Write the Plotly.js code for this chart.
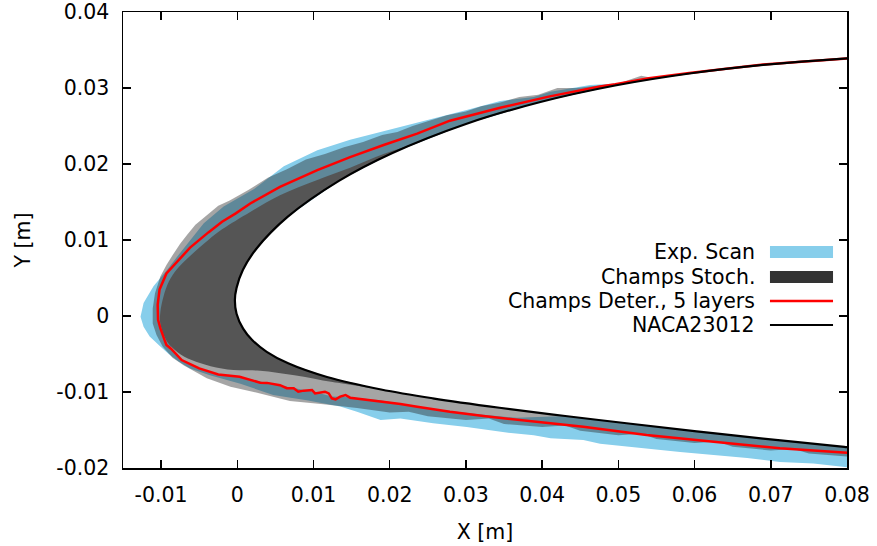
<!DOCTYPE html>
<html>
<head>
<meta charset="utf-8">
<script src="https://cdn.plot.ly/plotly-3.0.1.min.js"></script>
<style>html,body{margin:0;padding:0;background:#fff;}#chart{width:877px;height:546px;}</style>
</head>
<body>
<div id="chart"></div>
<script>
// NACA23012 contour (upper trailing side -> nose -> lower side)
const naca23012X = [0.0835, 0.08044, 0.069, 0.05933, 0.04957, 0.03977, 0.0300, 0.02036, 0.01333, 0.00663, 0.00253, 0.00074, -0.0001, -0.00032, -0.0001, 0.00076, 0.00195, 0.00386, 0.00667, 0.01177, 0.01887, 0.02564, 0.0344, 0.04303, 0.05163, 0.06027, 0.069, 0.07964, 0.0821];
const naca23012Y = [0.0341, 0.03394, 0.03304, 0.03191, 0.03033, 0.02816, 0.02527, 0.02145, 0.01778, 0.01307, 0.00889, 0.00608, 0.0037, 0.0021, 0.0003, -0.00167, -0.00317, -0.00471, -0.00623, -0.00803, -0.00967, -0.01083, -0.01207, -0.01316, -0.01418, -0.01518, -0.01613, -0.01722, -0.0175];

// Champs deterministic (5 layers) ice contour
const deterX = [0.0835, 0.069, 0.0593, 0.0540, 0.0496, 0.0476, 0.0410, 0.0345, 0.0279, 0.0236, 0.0192, 0.0148, 0.0105, 0.0056, 0.0017, -0.0002, -0.0020, -0.0038, -0.0062, -0.0079, -0.0093, -0.0102, -0.01045, -0.0104, -0.0101, -0.0096, -0.0093, -0.0087, -0.0073, -0.0050, -0.0025, 0.0003, 0.0017, 0.0030, 0.0039, 0.0056, 0.0065, 0.0074, 0.0080, 0.0087, 0.0098, 0.0102, 0.0115, 0.0120, 0.0124, 0.0129, 0.0135, 0.0142, 0.0148, 0.0161, 0.0188, 0.0214, 0.0236, 0.0279, 0.0323, 0.0367, 0.0411, 0.0454, 0.0537, 0.0625, 0.0712, 0.0800, 0.0830];
const deterY = [0.03415, 0.03309, 0.03196, 0.0313, 0.0305, 0.0302, 0.0289, 0.0274, 0.0257, 0.0240, 0.0225, 0.0209, 0.0192, 0.0170, 0.0148, 0.0135, 0.0124, 0.0110, 0.0090, 0.0072, 0.0056, 0.0035, 0.0015, -0.0005, -0.0016, -0.0030, -0.0038, -0.0043, -0.0058, -0.0069, -0.0077, -0.0080, -0.0084, -0.00877, -0.0088, -0.0091, -0.0095, -0.0095, -0.00996, -0.00982, -0.00974, -0.01018, -0.00996, -0.01018, -0.01083, -0.01097, -0.01061, -0.0104, -0.01075, -0.01092, -0.01118, -0.01158, -0.01193, -0.01259, -0.01316, -0.01368, -0.01412, -0.01456, -0.01566, -0.01654, -0.01741, -0.01798, -0.0182];

// Experimental scan: outer edge and inner edge of the ice band
const expOuterX = [0.0530, 0.0498, 0.0463, 0.0411, 0.0389, 0.0345, 0.0301, 0.0257, 0.0214, 0.0170, 0.0148, 0.0105, 0.0061, 0.0022, -0.0018, -0.0044, -0.0062, -0.0079, -0.0092, -0.0110, -0.0123, -0.0127, -0.0123, -0.0115, -0.0101, -0.0090, -0.0077, -0.0062, -0.0036, 0.0004, 0.0047, 0.0091, 0.0135, 0.0157, 0.0188, 0.0214, 0.0257, 0.0301, 0.0359, 0.0389, 0.0411, 0.0454, 0.0476, 0.0494, 0.0537, 0.0581, 0.0625, 0.0669, 0.0712, 0.0756, 0.0800, 0.0830];
const expOuterY = [0.0309, 0.0306, 0.0304, 0.0295, 0.0288, 0.0283, 0.0271, 0.0260, 0.0249, 0.0238, 0.0232, 0.0218, 0.0197, 0.0167, 0.0144, 0.0122, 0.0100, 0.0078, 0.0061, 0.0039, 0.0017, -0.0001, -0.0014, -0.0027, -0.0040, -0.0050, -0.0060, -0.0069, -0.0078, -0.0089, -0.0104, -0.0111, -0.0119, -0.0126, -0.0137, -0.0135, -0.0141, -0.0146, -0.0154, -0.0157, -0.0161, -0.0163, -0.0168, -0.0170, -0.0174, -0.0179, -0.0183, -0.0187, -0.0192, -0.0194, -0.0199, -0.0201];
const expInnerX = [0.0530, 0.04957, 0.03977, 0.0300, 0.02036, 0.01333, 0.00663, 0.0000, -0.0060, -0.0080, -0.0085, -0.0087, -0.0073, -0.0050, -0.0025, 0.0003, 0.0039, 0.0074, 0.0102, 0.0124, 0.0148, 0.0188, 0.0236, 0.0279, 0.0323, 0.0367, 0.0430, 0.05163, 0.06027, 0.069, 0.07964, 0.0830];
const expInnerY = [0.0309, 0.03033, 0.02816, 0.02527, 0.02145, 0.01778, 0.01307, 0.0080, 0.0050, 0.0020, -0.0010, -0.0043, -0.0058, -0.0069, -0.0077, -0.0080, -0.0088, -0.0095, -0.0100, -0.0106, -0.0107, -0.0111, -0.0119, -0.0125, -0.0130, -0.0134, -0.01316, -0.01418, -0.01518, -0.01613, -0.01722, -0.0176];

// Champs stochastic: outer (scattered) envelope and dense core edge
const stochOuterX = [0.0593, 0.0545, 0.0530, 0.0500, 0.0470, 0.0445, 0.0420, 0.0395, 0.0370, 0.0345, 0.0320, 0.0300, 0.0275, 0.0250, 0.0230, 0.0210, 0.0190, 0.0165, 0.0140, 0.0115, 0.0090, 0.0065, 0.0040, 0.0015, -0.0010, -0.0025, -0.0040, -0.0055, -0.0065, -0.0075, -0.0085, -0.0093, -0.0101, -0.0108, -0.0111, -0.0111, -0.0106, -0.0098, -0.0085, -0.0070, -0.0040, -0.0009, 0.0026, 0.0069, 0.0113, 0.0157, 0.0200, 0.0225, 0.0250, 0.0300, 0.0330, 0.0350, 0.0400, 0.0430, 0.0450, 0.0500, 0.0530, 0.0550, 0.0600, 0.0630, 0.0650, 0.0700, 0.0730, 0.0750, 0.0800, 0.0830];
const stochOuterY = [0.03191, 0.0313, 0.0316, 0.0306, 0.0303, 0.0300, 0.0300, 0.0291, 0.0288, 0.0281, 0.0276, 0.0269, 0.0264, 0.0256, 0.0250, 0.0242, 0.0238, 0.0229, 0.0222, 0.0213, 0.0206, 0.0193, 0.0182, 0.0166, 0.0152, 0.0145, 0.0133, 0.0120, 0.0108, 0.0095, 0.0080, 0.0067, 0.0052, 0.0030, 0.0010, -0.0010, -0.0025, -0.0040, -0.0055, -0.0065, -0.0082, -0.0093, -0.0101, -0.0112, -0.0116, -0.0121, -0.0127, -0.0126, -0.0132, -0.0137, -0.0135, -0.0142, -0.0146, -0.0144, -0.0151, -0.0157, -0.0155, -0.0162, -0.0167, -0.0165, -0.0172, -0.0177, -0.0175, -0.0181, -0.0185, -0.0187];
const stochCoreX = [0.0280, 0.0240, 0.0192, 0.0148, 0.0105, 0.0056, 0.0017, -0.0020, -0.0038, -0.0062, -0.0079, -0.0090, -0.0097, -0.0101, -0.0101, -0.0092, -0.0078, -0.0060, -0.0035, -0.0005, 0.0030, 0.0075, 0.0125, 0.0180];
const stochCoreY = [0.0246, 0.0230, 0.0213, 0.0195, 0.0179, 0.0159, 0.0137, 0.0114, 0.0100, 0.0079, 0.0062, 0.0045, 0.0025, 0.0005, -0.0010, -0.0034, -0.0048, -0.0058, -0.0066, -0.0071, -0.0072, -0.0078, -0.0087, -0.0095];

const xTickVals = [-0.01, 0, 0.01, 0.02, 0.03, 0.04, 0.05, 0.06, 0.07, 0.08];
const xTickText = ['-0.01', '0', '0.01', '0.02', '0.03', '0.04', '0.05', '0.06', '0.07', '0.08'];
const yTickVals = [-0.02, -0.01, 0, 0.01, 0.02, 0.03, 0.04];
const yTickText = ['-0.02', '-0.01', '0', '0.01', '0.02', '0.03', '0.04'];

const legendNames = ['Exp. Scan', 'Champs Stoch.', 'Champs Deter., 5 layers', 'NACA23012'];

// close an ice edge (from upper surface to lower surface) back along the airfoil
function bandOnAirfoil(ex, ey) {
  let nose = 0;
  for (let i = 1; i < naca23012X.length; i++) if (naca23012X[i] < naca23012X[nose]) nose = i;
  const firstX = ex[0], lastX = ex[ex.length - 1];
  const px = ex.slice(), py = ey.slice();
  for (let i = naca23012X.length - 1; i >= 0; i--) {
    const lim = i > nose ? lastX : firstX;
    if (naca23012X[i] < lim) { px.push(naca23012X[i]); py.push(naca23012Y[i]); }
  }
  px.push(ex[0]); py.push(ey[0]);
  return [px, py];
}

const expPolyX = expOuterX.concat(expInnerX.slice().reverse());
const expPolyY = expOuterY.concat(expInnerY.slice().reverse());
const [fuzzX, fuzzY] = bandOnAirfoil(stochOuterX, stochOuterY);
const [coreX, coreY] = bandOnAirfoil(stochCoreX, stochCoreY);

const blue = '#87ceeb';
const traces = [
  {x: expPolyX, y: expPolyY, mode: 'lines', fill: 'toself', fillcolor: blue, line: {width: 0}, hoverinfo: 'skip', name: legendNames[0], showlegend: false},
  {x: fuzzX, y: fuzzY, mode: 'lines', fill: 'toself', fillcolor: 'rgba(40,40,40,0.42)', line: {width: 0}, hoverinfo: 'skip', name: legendNames[1], showlegend: false},
  {x: coreX, y: coreY, mode: 'lines', fill: 'toself', fillcolor: '#555555', line: {width: 0, shape: 'spline'}, hoverinfo: 'skip', name: legendNames[1] + ' core', showlegend: false},
  {x: deterX, y: deterY, mode: 'lines', line: {color: '#ff0000', width: 2.5}, name: legendNames[2], showlegend: false},
  {x: naca23012X, y: naca23012Y, mode: 'lines', line: {color: '#000000', width: 2.2, shape: 'spline', smoothing: 1}, name: legendNames[3], showlegend: false}
];

// legend (gnuplot style: text right-aligned, sample on the right)
const legRowY = [0.4737, 0.4189, 0.3662, 0.3136];
const legTextX = 0.8757, legS0 = 0.8936, legS1 = 0.9807;
const FS = 20.5;
const annotations = legendNames.map((t, i) => ({
  xref: 'paper', yref: 'paper', x: legTextX, y: legRowY[i], xanchor: 'right', yanchor: 'middle',
  text: t, showarrow: false, font: {family: 'DejaVu Sans', size: FS, color: '#000'}
}));
const hBox = 6 / 456;
const shapes = [
  {type: 'rect', xref: 'paper', yref: 'paper', x0: legS0, x1: legS1, y0: legRowY[0] - hBox, y1: legRowY[0] + hBox, fillcolor: blue, line: {width: 0}},
  {type: 'rect', xref: 'paper', yref: 'paper', x0: legS0, x1: legS1, y0: legRowY[1] - hBox, y1: legRowY[1] + hBox, fillcolor: '#333333', line: {width: 0}},
  {type: 'line', xref: 'paper', yref: 'paper', x0: legS0, x1: legS1, y0: legRowY[2], y1: legRowY[2], line: {color: '#ff0000', width: 2.5}},
  {type: 'line', xref: 'paper', yref: 'paper', x0: legS0, x1: legS1, y0: legRowY[3], y1: legRowY[3], line: {color: '#000000', width: 2.2}}
];

const axisCommon = {
  showline: true, linecolor: '#000', linewidth: 1.5, mirror: 'ticks',
  ticks: 'inside', ticklen: 8, tickwidth: 1.5, tickcolor: '#000',
  showgrid: false, zeroline: false, tickmode: 'array',
  tickfont: {family: 'DejaVu Sans', size: FS, color: '#000'}
};

const layout = {
  width: 877, height: 546,
  margin: {l: 123, r: 30, t: 12, b: 78},
  paper_bgcolor: '#fff', plot_bgcolor: '#fff',
  font: {family: 'DejaVu Sans', size: FS, color: '#000'},
  xaxis: Object.assign({}, axisCommon, {
    range: [-0.015, 0.08], tickvals: xTickVals, ticktext: xTickText, ticklabelstandoff: 8,
    title: {text: 'X [m]', font: {family: 'DejaVu Sans', size: FS, color: '#000'}, standoff: 18}
  }),
  yaxis: Object.assign({}, axisCommon, {
    range: [-0.02, 0.04], tickvals: yTickVals, ticktext: yTickText, ticklabelstandoff: 8,
    title: {text: 'Y [m]', font: {family: 'DejaVu Sans', size: FS, color: '#000'}, standoff: 20}
  }),
  showlegend: false,
  annotations: annotations,
  shapes: shapes
};

Plotly.newPlot('chart', traces, layout, {staticPlot: true, displayModeBar: false});
</script>
</body>
</html>
